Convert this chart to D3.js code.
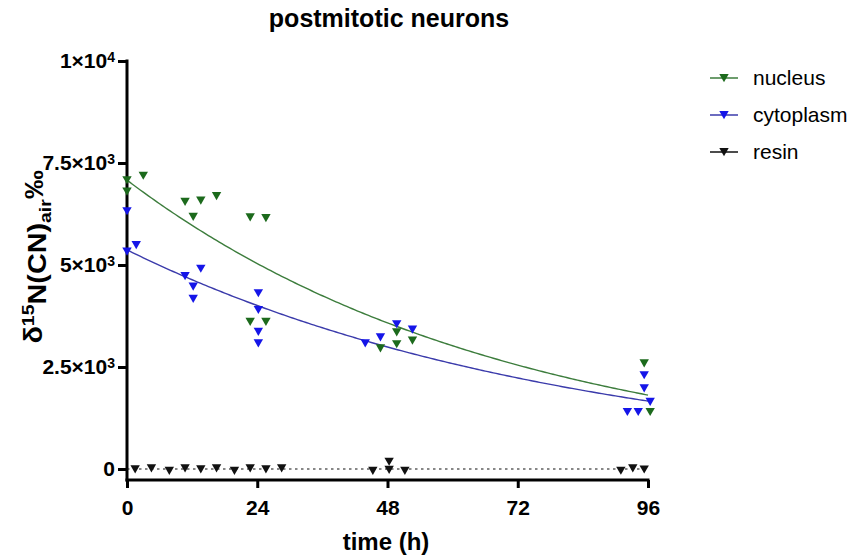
<!DOCTYPE html>
<html>
<head>
<meta charset="utf-8">
<script src="https://cdn.jsdelivr.net/npm/d3@7"></script>
<style>
  body { margin: 0; background: #fff; }
  svg { display: block; }
  text { font-family: "Liberation Sans", Arial, Helvetica, sans-serif; fill: #000; }
</style>
</head>
<body>
<svg id="chart" width="855" height="556"></svg>
<script>
// Series definitions
const seriesNames = ["nucleus", "cytoplasm", "resin"];
const seriesColors = ["#1c6a1c", "#1515e8", "#111111"];
const fitColors = ["#3d7d3d", "#3b3bab", "#111111"];

// Nucleus measurements: time (h) and δ15N values
const nucleusTime  = [0, 0, 3.0, 10.7, 12.2, 13.6, 16.5, 22.7, 25.6, 22.7, 25.6, 46.7, 49.7, 49.7, 52.6, 95.3, 96.4];
const nucleusValue = [7080, 6800, 7190, 6550, 6180, 6580, 6690, 6170, 6150, 3610, 3610, 2960, 3350, 3060, 3150, 2590, 1400];

// Cytoplasm measurements
const cytoplasmTime  = [0, 0, 1.7, 10.7, 12.2, 12.2, 13.6, 24.2, 24.2, 24.2, 24.2, 43.9, 46.7, 49.7, 52.6, 92.2, 94.2, 95.3, 95.3, 96.4];
const cytoplasmValue = [6320, 5330, 5490, 4730, 4470, 4170, 4910, 4310, 3900, 3365, 3080, 3080, 3230, 3550, 3420, 1400, 1400, 2300, 1980, 1650];

// Resin measurements
const resinTime  = [1.5, 4.5, 7.8, 10.7, 13.6, 16.5, 19.8, 22.7, 25.6, 28.5, 45.3, 48.3, 48.3, 51.2, 91.0, 93.2, 95.3];
const resinValue = [-7, 17, -42, 17, -7, 17, -42, 17, -7, 17, -45, 180, -20, -45, -40, 20, -10];

// One-phase decay fits: Y = Y0 * exp(-K * t)
const fitY0 = [7080, 5370, 0];
const fitK  = [0.0142, 0.0122, 0];
const fitRange = [0, 96];

// Axis ticks
const xTicks = [0, 24, 48, 72, 96];
const yTicks = [0, 2500, 5000, 7500, 10000];
const yTickMantissa = ["0", "2.5×10", "5×10", "7.5×10", "1×10"];
const yTickExponent = ["", "3", "3", "3", "4"];

const svg = d3.select("#chart");

const x = d3.scaleLinear().domain([0, 96]).range([127, 648]);
const y = d3.scaleLinear().domain([0, 10000]).range([469, 61]);
const xAxisY = 480;

// Title
svg.append("text")
  .attr("x", 389).attr("y", 27)
  .attr("text-anchor", "middle")
  .style("font-size", "25px").style("font-weight", "bold")
  .text("postmitotic neurons");

// X axis
const xAxis = svg.append("g")
  .attr("transform", `translate(0,${xAxisY})`)
  .call(d3.axisBottom(x).tickValues(xTicks).tickSize(8).tickPadding(12).tickSizeOuter(0));
xAxis.select(".domain").remove();
xAxis.append("line")
  .attr("x1", x(0) - 1.5).attr("x2", x(96) + 1.5)
  .attr("stroke", "#000").attr("stroke-width", 3);
xAxis.selectAll(".tick line").attr("stroke", "#000").attr("stroke-width", 3);
xAxis.selectAll(".tick text")
  .style("font-size", "21px").style("font-weight", "bold")
  .style("font-family", "'Liberation Sans', Arial, sans-serif").attr("fill", "#000");

// Y axis
const yAxis = svg.append("g")
  .attr("transform", `translate(${x(0)},0)`)
  .call(d3.axisLeft(y).tickValues(yTicks).tickSize(9).tickPadding(3).tickSizeOuter(0).tickFormat(() => ""));
yAxis.select(".domain").remove();
yAxis.append("line")
  .attr("y1", y(10000) - 1.5).attr("y2", xAxisY + 1.5)
  .attr("stroke", "#000").attr("stroke-width", 3);
yAxis.selectAll(".tick line").attr("stroke", "#000").attr("stroke-width", 3);
yAxis.selectAll(".tick text").each(function(d) {
  const i = yTicks.indexOf(d);
  const t = d3.select(this)
    .style("font-size", "21px").style("font-weight", "bold")
    .style("font-family", "'Liberation Sans', Arial, sans-serif").attr("fill", "#000")
    .text(null);
  t.append("tspan").text(yTickMantissa[i]);
  if (yTickExponent[i]) {
    t.append("tspan").attr("dy", "-0.45em").style("font-size", "14px").text(yTickExponent[i]);
  }
});

// Axis titles
svg.append("text")
  .attr("x", 386).attr("y", 550)
  .attr("text-anchor", "middle")
  .style("font-size", "24px").style("font-weight", "bold")
  .text("time (h)");

const yTitle = svg.append("text")
  .attr("transform", "translate(42,257) rotate(-90) scale(1.15,1)")
  .attr("text-anchor", "middle")
  .style("font-size", "25px").style("font-weight", "bold");
yTitle.append("tspan").text("δ");
yTitle.append("tspan").attr("dy", "-0.45em").style("font-size", "17px").text("15");
yTitle.append("tspan").attr("dy", "0.45em").text("N(CN)");
yTitle.append("tspan").attr("dy", "0.3em").style("font-size", "17px").text("air");
yTitle.append("tspan").attr("dy", "-0.3em").text("‰");

// Fit curves
const line = d3.line().x(d => x(d[0])).y(d => y(d[1]));
const plot = svg.append("g");
fitY0.forEach((y0, i) => {
  const pts = d3.range(fitRange[0], fitRange[1] + 0.01, 0.5).map(t => [t, y0 * Math.exp(-fitK[i] * t)]);
  plot.append("path")
    .attr("d", line(pts))
    .attr("fill", "none")
    .attr("stroke", fitColors[i])
    .attr("stroke-width", i === 2 ? 1.2 : 1.4)
    .attr("stroke-dasharray", i === 2 ? "2.5,3.5" : null);
});

// Markers (downward triangles)
const tri = "M-4.7,-4L4.7,-4L0,4.2Z";
const seriesData = [
  d3.zip(nucleusTime, nucleusValue),
  d3.zip(cytoplasmTime, cytoplasmValue),
  d3.zip(resinTime, resinValue)
];
seriesData.forEach((pts, i) => {
  plot.append("g").selectAll("path")
    .data(pts).join("path")
    .attr("d", tri)
    .attr("transform", d => `translate(${x(d[0])},${y(d[1])})`)
    .attr("fill", seriesColors[i]);
});

// Legend
const legend = svg.append("g");
seriesNames.forEach((name, i) => {
  const ly = 78 + i * 37;
  legend.append("line")
    .attr("x1", 710).attr("x2", 738).attr("y1", ly).attr("y2", ly)
    .attr("stroke", fitColors[i]).attr("stroke-width", 1.5);
  legend.append("path")
    .attr("d", tri).attr("transform", `translate(724,${ly})`)
    .attr("fill", seriesColors[i]);
  legend.append("text")
    .attr("x", 753).attr("y", ly).attr("dy", "0.35em")
    .style("font-size", "21px")
    .text(name);
});
</script>
</body>
</html>
